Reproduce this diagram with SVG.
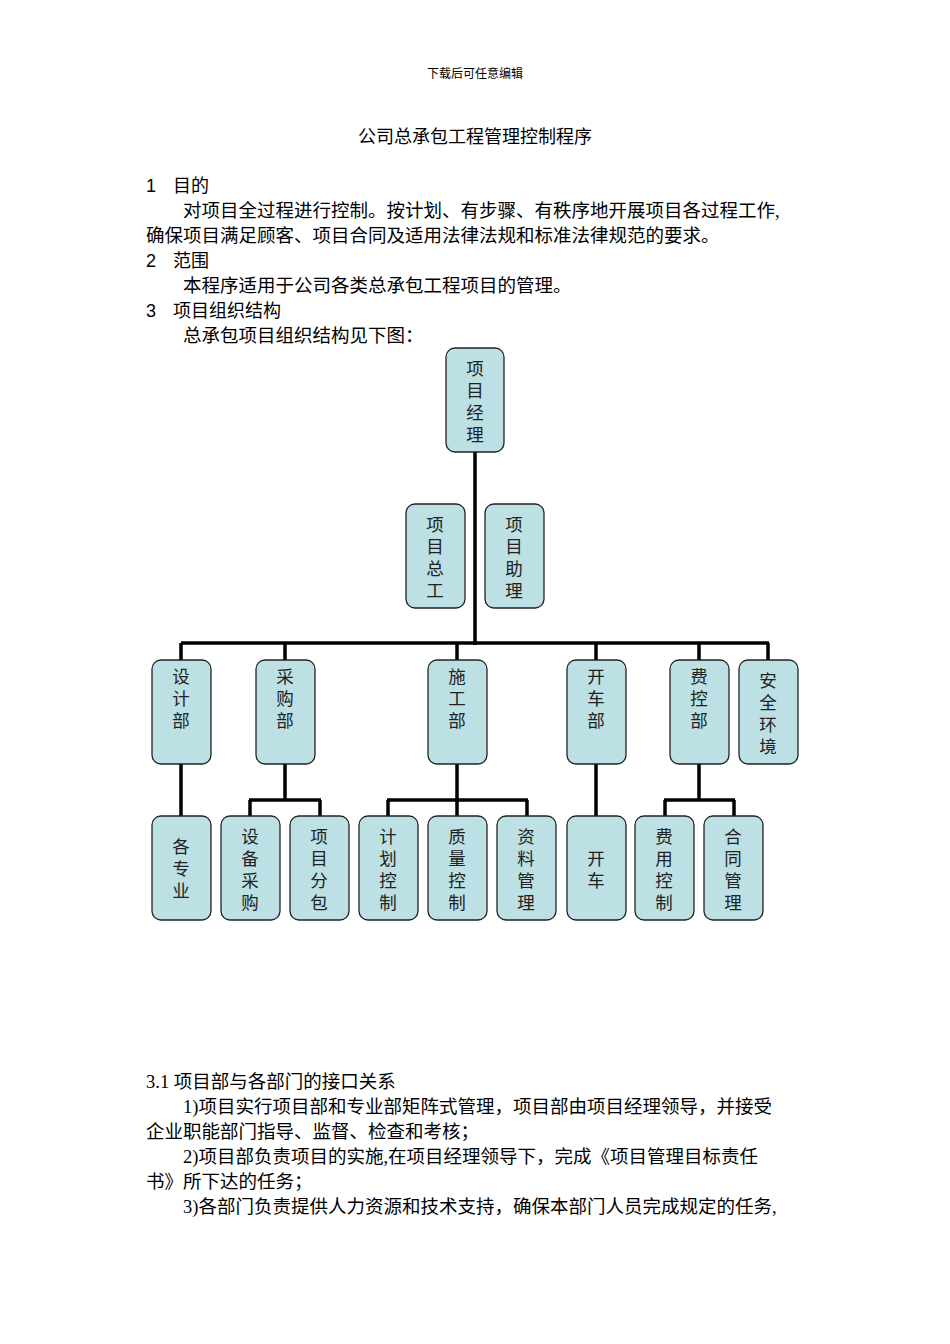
<svg xmlns="http://www.w3.org/2000/svg" width="950" height="1344" viewBox="0 0 950 1344">
<style>
.t{font-family:"Liberation Serif","Noto Sans CJK SC",serif;font-size:18.5px;fill:#000}
.h{font-family:"Liberation Sans","Noto Sans CJK SC",sans-serif;font-size:18px;fill:#000}
.n rect{fill:#BCE0E3;stroke:#222;stroke-width:1.3}
.n text{font-family:"Noto Sans CJK SC",sans-serif;font-size:17.5px;fill:#222;text-anchor:middle}
.c line{stroke:#000;stroke-width:3.5}
</style>
<rect width="950" height="1344" fill="#fff"/>
<text x="475" y="78" class="t" text-anchor="middle" style="font-size:12px">下载后可任意编辑</text>
<text x="475" y="143" class="h" text-anchor="middle">公司总承包工程管理控制程序</text>
<text x="146" y="192" class="h">1</text><text x="173" y="192" class="h">目的</text>
<text x="183" y="217" class="t">对项目全过程进行控制。按计划、有步骤、有秩序地开展项目各过程工作,</text>
<text x="146" y="242" class="t">确保项目满足顾客、项目合同及适用法律法规和标准法律规范的要求。</text>
<text x="146" y="267" class="h">2</text><text x="173" y="267" class="h">范围</text>
<text x="183" y="292" class="t">本程序适用于公司各类总承包工程项目的管理。</text>
<text x="146" y="317" class="h">3</text><text x="173" y="317" class="h">项目组织结构</text>
<text x="183" y="342" class="t">总承包项目组织结构见下图：</text>
<g class="c">
<line x1="475" y1="452" x2="475" y2="645"/>
<line x1="181" y1="643" x2="769" y2="643"/>
<line x1="181" y1="643" x2="181" y2="660"/>
<line x1="285" y1="643" x2="285" y2="660"/>
<line x1="457" y1="643" x2="457" y2="660"/>
<line x1="596" y1="643" x2="596" y2="660"/>
<line x1="699" y1="643" x2="699" y2="660"/>
<line x1="768" y1="643" x2="768" y2="660"/>
<line x1="181" y1="764" x2="181" y2="816"/>
<line x1="285" y1="764" x2="285" y2="800"/>
<line x1="249" y1="800" x2="321" y2="800"/>
<line x1="250" y1="800" x2="250" y2="816"/>
<line x1="320" y1="800" x2="320" y2="816"/>
<line x1="457" y1="764" x2="457" y2="816"/>
<line x1="387" y1="800" x2="528" y2="800"/>
<line x1="388" y1="800" x2="388" y2="816"/>
<line x1="527" y1="800" x2="527" y2="816"/>
<line x1="596" y1="764" x2="596" y2="816"/>
<line x1="699" y1="764" x2="699" y2="800"/>
<line x1="664" y1="800" x2="735" y2="800"/>
<line x1="665" y1="800" x2="665" y2="816"/>
<line x1="734" y1="800" x2="734" y2="816"/>
</g>
<g id="pm" class="n"><rect x="446" y="348" width="58" height="104" rx="9"/><text x="475" y="375">项</text><text x="475" y="397">目</text><text x="475" y="419">经</text><text x="475" y="441">理</text></g>
<g id="zg" class="n"><rect x="406" y="504" width="59" height="104" rx="9"/><text x="435" y="531">项</text><text x="435" y="553">目</text><text x="435" y="575">总</text><text x="435" y="597">工</text></g>
<g id="zl" class="n"><rect x="485" y="504" width="59" height="104" rx="9"/><text x="514" y="531">项</text><text x="514" y="553">目</text><text x="514" y="575">助</text><text x="514" y="597">理</text></g>
<g id="sj" class="n"><rect x="152" y="660" width="59" height="104" rx="9"/><text x="181" y="683">设</text><text x="181" y="705">计</text><text x="181" y="727">部</text></g>
<g id="cg" class="n"><rect x="256" y="660" width="59" height="104" rx="9"/><text x="285" y="683">采</text><text x="285" y="705">购</text><text x="285" y="727">部</text></g>
<g id="sg" class="n"><rect x="428" y="660" width="59" height="104" rx="9"/><text x="457" y="683">施</text><text x="457" y="705">工</text><text x="457" y="727">部</text></g>
<g id="kc" class="n"><rect x="567" y="660" width="59" height="104" rx="9"/><text x="596" y="683">开</text><text x="596" y="705">车</text><text x="596" y="727">部</text></g>
<g id="fk" class="n"><rect x="670" y="660" width="59" height="104" rx="9"/><text x="699" y="683">费</text><text x="699" y="705">控</text><text x="699" y="727">部</text></g>
<g id="aq" class="n"><rect x="739" y="660" width="59" height="104" rx="9"/><text x="768" y="687">安</text><text x="768" y="709">全</text><text x="768" y="731">环</text><text x="768" y="753">境</text></g>
<g id="gzy" class="n"><rect x="152" y="816" width="59" height="104" rx="9"/><text x="181" y="853">各</text><text x="181" y="875">专</text><text x="181" y="897">业</text></g>
<g id="sbcg" class="n"><rect x="221" y="816" width="59" height="104" rx="9"/><text x="250" y="843">设</text><text x="250" y="865">备</text><text x="250" y="887">采</text><text x="250" y="909">购</text></g>
<g id="xmfb" class="n"><rect x="290" y="816" width="59" height="104" rx="9"/><text x="319" y="843">项</text><text x="319" y="865">目</text><text x="319" y="887">分</text><text x="319" y="909">包</text></g>
<g id="jhkz" class="n"><rect x="359" y="816" width="59" height="104" rx="9"/><text x="388" y="843">计</text><text x="388" y="865">划</text><text x="388" y="887">控</text><text x="388" y="909">制</text></g>
<g id="zlkz" class="n"><rect x="428" y="816" width="59" height="104" rx="9"/><text x="457" y="843">质</text><text x="457" y="865">量</text><text x="457" y="887">控</text><text x="457" y="909">制</text></g>
<g id="zlgl" class="n"><rect x="497" y="816" width="59" height="104" rx="9"/><text x="526" y="843">资</text><text x="526" y="865">料</text><text x="526" y="887">管</text><text x="526" y="909">理</text></g>
<g id="kc2" class="n"><rect x="567" y="816" width="59" height="104" rx="9"/><text x="596" y="865">开</text><text x="596" y="887">车</text></g>
<g id="fykz" class="n"><rect x="635" y="816" width="59" height="104" rx="9"/><text x="664" y="843">费</text><text x="664" y="865">用</text><text x="664" y="887">控</text><text x="664" y="909">制</text></g>
<g id="htgl" class="n"><rect x="704" y="816" width="59" height="104" rx="9"/><text x="733" y="843">合</text><text x="733" y="865">同</text><text x="733" y="887">管</text><text x="733" y="909">理</text></g>
<text x="146" y="1088" class="t">3.1 项目部与各部门的接口关系</text>
<text x="183" y="1113" class="t">1)项目实行项目部和专业部矩阵式管理，项目部由项目经理领导，并接受</text>
<text x="146" y="1138" class="t">企业职能部门指导、监督、检查和考核；</text>
<text x="183" y="1163" class="t">2)项目部负责项目的实施,在项目经理领导下，完成《项目管理目标责任</text>
<text x="146" y="1188" class="t">书》所下达的任务；</text>
<text x="183" y="1213" class="t">3)各部门负责提供人力资源和技术支持，确保本部门人员完成规定的任务,</text>
</svg>
